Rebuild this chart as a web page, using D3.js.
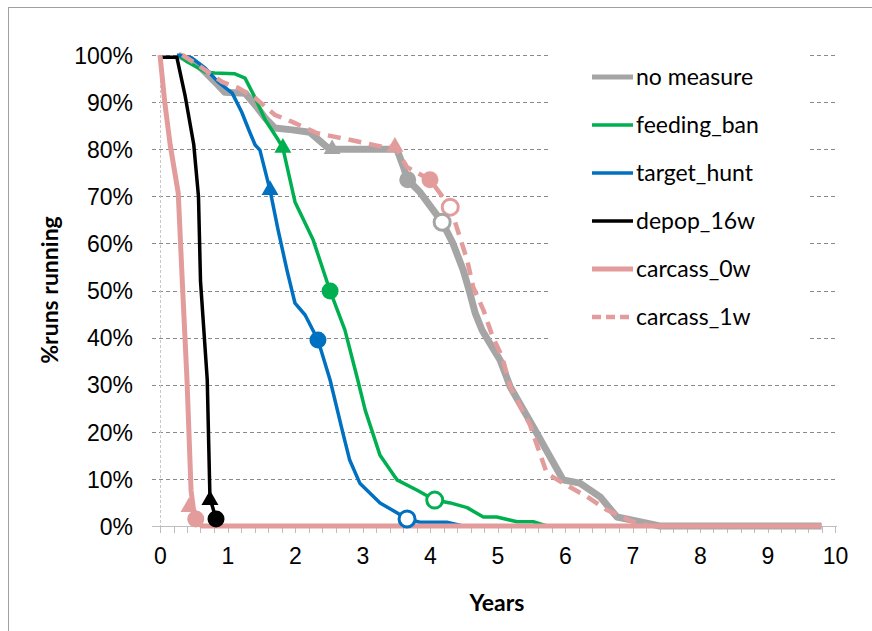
<!DOCTYPE html>
<html>
<head>
<meta charset="utf-8">
<script src="https://cdn.jsdelivr.net/npm/d3@7"></script>
<style>
  body { margin: 0; background: #fff; }
  svg { display: block; font-family: Lato, "Liberation Sans", sans-serif; }
</style>
</head>
<body>
<div id="chart"></div>
<script>
// values: [years, % runs still running]
const noMeasure = [[0.27,100],[0.56,97.9],[0.86,93.6],[0.96,92.1],[1.26,91.9],[1.41,89.4],[1.56,86.6],[1.7,84.5],[1.96,84.1],[2.22,83.6],[2.47,80.5],[2.55,80],[3.51,80],[3.6,76.5],[3.67,73.5],[3.85,70.9],[4.18,64.5],[4.34,60],[4.49,54.4],[4.59,49.5],[4.67,45.2],[4.77,41.6],[4.92,38],[5.04,35.2],[5.19,29.5],[5.53,21],[5.97,9.8],[6.22,9.1],[6.52,6.2],[6.77,1.9],[7.21,0.6],[7.4,0],[9.8,0]];
const feedingBan = [[0.27,100],[0.41,98.5],[0.67,96.4],[0.81,96.2],[1.11,96],[1.26,95.1],[1.41,90.9],[1.56,86.2],[1.75,82],[1.82,80.3],[2.0,68.8],[2.27,60.7],[2.52,49.9],[2.74,41.6],[2.93,31],[3.04,24.6],[3.26,15],[3.51,9.8],[3.81,7.6],[4.07,5.5],[4.3,4.9],[4.55,3.9],[4.79,1.9],[4.99,1.9],[5.29,0.9],[5.53,0.9],[5.73,0]];
const targetHunt = [[0.25,100],[0.47,99.4],[0.67,97.2],[0.86,94.3],[1.07,91.9],[1.21,87.9],[1.33,83.6],[1.41,80.9],[1.48,79.8],[1.63,71.3],[1.75,62.8],[1.88,54.4],[2.0,47.3],[2.15,44.8],[2.34,39.5],[2.52,31],[2.71,19.7],[2.81,14],[2.96,9.1],[3.26,4.9],[3.51,2.8],[3.66,1.5],[3.85,0.8],[4.25,0.8],[4.49,0]];
const depop16w = [[0,99.5],[0.25,99.5],[0.37,91.5],[0.5,81],[0.57,70],[0.6,52],[0.7,31],[0.74,6],[0.83,1.5],[0.9,0]];
const carcass0w = [[0,100],[0.07,90],[0.15,81],[0.27,70.7],[0.33,52],[0.4,31],[0.46,7.6],[0.5,3],[0.55,1.5],[0.62,0],[9.8,0]];
const carcass1w = [[0.33,100],[0.56,97.9],[0.92,94.3],[1.16,93],[1.41,90.9],[1.56,89],[1.7,87.3],[1.96,85.8],[2.33,83.4],[2.81,82],[3.3,80.5],[3.48,80.5],[3.66,76.2],[4.0,73.5],[4.3,67.7],[4.41,62.8],[4.55,56.5],[4.64,50.7],[4.79,45.9],[4.93,40.1],[5.07,35.9],[5.19,29.5],[5.48,21.5],[5.73,11.2],[5.97,9.1],[6.33,6.2],[6.62,3.4],[7.01,0.9],[7.26,0]];

// marker points: triangle, filled circle, open circle
const markersNoMeasure = { tri: [2.55,80], dot: [3.67,73.5], ring: [4.18,64.5] };
const markersFeeding = { tri: [1.82,80.3], dot: [2.52,49.9], ring: [4.07,5.5] };
const markersTarget = { tri: [1.63,71.3], dot: [2.34,39.5], ring: [3.66,1.5] };
const markersDepop = { tri: [0.74,5.5], dot: [0.83,1.5] };
const markersCarcass0 = { tri: [0.43,4], dot: [0.53,1.5] };
const markersCarcass1 = { tri: [3.48,80.5], dot: [4.0,73.5], ring: [4.3,67.7] };

const seriesNames = ["no measure", "feeding_ban", "target_hunt", "depop_16w", "carcass_0w", "carcass_1w"];
const xTicks = [0,1,2,3,4,5,6,7,8,9,10];
const yTicks = [0,10,20,30,40,50,60,70,80,90,100];

const width = 872, height = 631;

const series = [
  { name: seriesNames[0], data: noMeasure, marks: markersNoMeasure, color: "#a5a5a5", w: 7, dash: null },
  { name: seriesNames[1], data: feedingBan, marks: markersFeeding, color: "#00b050", w: 3.5, dash: null },
  { name: seriesNames[2], data: targetHunt, marks: markersTarget, color: "#0070c0", w: 3.5, dash: null },
  { name: seriesNames[3], data: depop16w, marks: markersDepop, color: "#000000", w: 3.5, dash: null },
  { name: seriesNames[4], data: carcass0w, marks: markersCarcass0, color: "#e39c9c", w: 5, dash: null },
  { name: seriesNames[5], data: carcass1w, marks: markersCarcass1, color: "#e39c9c", w: 4.5, dash: "13,8" }
];

const x = d3.scaleLinear().domain([0, 10]).range([160, 835]);
const y = d3.scaleLinear().domain([0, 100]).range([526, 55]);

const svg = d3.select("#chart").append("svg")
  .attr("width", width)
  .attr("height", height);

// chart area border (only top / left visible in the crop)
svg.append("rect")
  .attr("x", 8.5).attr("y", 7.5)
  .attr("width", 900).attr("height", 700)
  .attr("fill", "none")
  .attr("stroke", "#a0a0a0");

// horizontal gridlines
svg.append("g").selectAll("line")
  .data(yTicks.filter(d => d > 0))
  .enter().append("line")
  .attr("x1", 152).attr("x2", 837)
  .attr("y1", d => Math.round(y(d)) + 0.5)
  .attr("y2", d => Math.round(y(d)) + 0.5)
  .attr("stroke", "#8a8a8a")
  .attr("stroke-dasharray", "4,3");

// vertical axis line
svg.append("line")
  .attr("x1", 160.5).attr("x2", 160.5)
  .attr("y1", 55).attr("y2", 526)
  .attr("stroke", "#c8c8c8")
  .attr("stroke-dasharray", "3,2");

// x axis line + minor ticks
svg.append("line")
  .attr("x1", 152).attr("x2", 837)
  .attr("y1", 526.5).attr("y2", 526.5)
  .attr("stroke", "#bdbdbd");

svg.append("g").selectAll("line")
  .data(d3.range(0, 51).map(i => i / 5))
  .enter().append("line")
  .attr("x1", d => Math.round(x(d)) + 0.5)
  .attr("x2", d => Math.round(x(d)) + 0.5)
  .attr("y1", 526).attr("y2", 533)
  .attr("stroke", "#bdbdbd");

// y labels
const yAxis = svg.append("g")
  .attr("transform", "translate(160,0)")
  .call(d3.axisLeft(y).tickValues(yTicks).tickFormat(d => d + "%").tickSize(0).tickPadding(27));
yAxis.select(".domain").remove();
yAxis.selectAll("text")
  .attr("dy", "0.36em")
  .style("font-size", "23px")
  .attr("fill", "#000");

// x labels
const xAxis = svg.append("g")
  .attr("transform", "translate(0,526)")
  .call(d3.axisBottom(x).tickValues(xTicks).tickSize(0));
xAxis.select(".domain").remove();
xAxis.selectAll("text")
  .attr("y", 30)
  .attr("dy", "0.36em")
  .style("font-size", "23px")
  .attr("fill", "#000");

// axis titles
svg.append("text")
  .attr("x", 497).attr("y", 603)
  .attr("dy", "0.36em")
  .attr("text-anchor", "middle")
  .style("font-size", "23px")
  .style("font-weight", "bold")
  .text("Years");

svg.append("text")
  .attr("transform", "translate(50,290) rotate(-90)")
  .attr("dy", "0.36em")
  .attr("text-anchor", "middle")
  .style("font-size", "23px")
  .style("font-weight", "bold")
  .text("%runs running");

// legend box hides the gridlines behind it
const legend = svg.append("g");
legend.append("rect")
  .attr("x", 550).attr("y", 48)
  .attr("width", 258).attr("height", 304)
  .attr("fill", "#fff");

const line = d3.line().x(d => x(d[0])).y(d => y(d[1]));

// the lines
svg.append("g").selectAll("path")
  .data(series)
  .enter().append("path")
  .attr("d", d => line(d.data))
  .attr("fill", "none")
  .attr("stroke", d => d.color)
  .attr("stroke-width", d => d.w)
  .attr("stroke-linejoin", "round")
  .attr("stroke-dasharray", d => d.dash);

// markers (gray drawn last, it sits on top in the reference)
const markerOrder = [1, 2, 3, 4, 5, 0].map(i => series[i]);
const tri = d3.symbol().type(d3.symbolTriangle).size(125);
markerOrder.forEach(s => {
  const g = svg.append("g");
  if (s.marks.tri) {
    g.append("path")
      .attr("d", tri())
      .attr("transform", `translate(${x(s.marks.tri[0])},${y(s.marks.tri[1])})`)
      .attr("fill", s.color);
  }
  if (s.marks.dot) {
    g.append("circle")
      .attr("cx", x(s.marks.dot[0])).attr("cy", y(s.marks.dot[1]))
      .attr("r", 8.5)
      .attr("fill", s.color);
  }
  if (s.marks.ring) {
    g.append("circle")
      .attr("cx", x(s.marks.ring[0])).attr("cy", y(s.marks.ring[1]))
      .attr("r", 8)
      .attr("fill", "#fff")
      .attr("stroke", s.color)
      .attr("stroke-width", 3);
  }
});

// legend entries
const item = legend.selectAll("g.item")
  .data(series)
  .enter().append("g")
  .attr("class", "item")
  .attr("transform", (d, i) => `translate(0,${77 + i * 48})`);

item.append("line")
  .attr("x1", 592).attr("x2", 633)
  .attr("stroke", d => d.color)
  .attr("stroke-width", d => Math.min(d.w, 5))
  .attr("stroke-dasharray", d => d.dash ? "9,5" : null);

item.append("text")
  .attr("x", 636)
  .attr("dy", "0.36em")
  .style("font-size", "23px")
  .text(d => d.name);
</script>
</body>
</html>
